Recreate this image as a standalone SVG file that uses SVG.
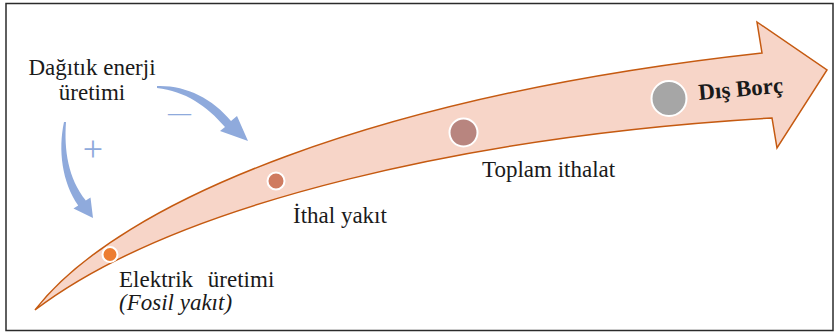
<svg xmlns="http://www.w3.org/2000/svg" width="837" height="334" viewBox="0 0 837 334">
<style>
text{font-family:'Liberation Serif','Tinos','DejaVu Serif',serif}
.t{font-size:23px;fill:#1a1a1a}
.dot{stroke:#ffffff;stroke-width:2}
.blue{fill:#8FAADC}
</style>
<rect x="0" y="0" width="837" height="334" fill="#ffffff"/>
<rect x="6" y="3.5" width="827" height="327" fill="none" stroke="#2b2b2b" stroke-width="1.5"/>
<g id="connectors">
<path id="main-arrow" d="M35,310 C120,200 380,95 762,53 L757,22 L827,70 L777,148 L772,118 C480,135 180,200 35,310 Z" fill="#F7D5C8" stroke="#C55A11" stroke-width="1.5" stroke-linejoin="miter"/>
<path id="arrow-plus" class="blue" d="M64,122 C58,150 62,182 78.2,205.5 L73.5,208.5 L93,218 L90.5,197.5 L85.8,200.5 C68,178 64,150 66,122 Z"/>
<path id="arrow-minus" class="blue" d="M157,86 C185,85 212,98 231,121 L237,116 L248,141 L220,131 L225,127 C207,106 185,91 157,88 Z"/>
<text class="blue" x="93" y="161" text-anchor="middle" font-size="36" font-family="Liberation Serif, serif">+</text>
<text class="blue" x="168" y="120" font-size="23" font-family="Liberation Serif, serif">—</text>
</g>
<g id="source">
<text class="t" x="92" y="75" text-anchor="middle" font-family="Liberation Serif, serif">Dağıtık enerji</text>
<text class="t" x="92" y="100" text-anchor="middle" font-family="Liberation Serif, serif">üretimi</text>
</g>
<g id="elektrik">
<circle class="dot" cx="110" cy="254.5" r="7.5" fill="#ED7D31"/>
<text class="t" x="119" y="287" word-spacing="9" font-family="Liberation Serif, serif">Elektrik üretimi</text>
<text class="t" x="119" y="310" font-size="22" font-style="italic" font-family="Liberation Serif, serif">(Fosil yakıt)</text>
</g>
<g id="ithal">
<circle class="dot" cx="276" cy="181" r="8.5" fill="#CF7B60"/>
<text class="t" x="293" y="223" font-family="Liberation Serif, serif">İthal yakıt</text>
</g>
<g id="toplam">
<circle class="dot" cx="463.5" cy="132.5" r="14" fill="#B8857F"/>
<text class="t" x="482" y="177" font-family="Liberation Serif, serif">Toplam ithalat</text>
</g>
<g id="disborc">
<circle class="dot" cx="669" cy="98.5" r="17.5" fill="#A6A6A6"/>
<text class="t" x="699" y="100" font-size="24" font-weight="bold" font-family="Liberation Serif, serif" transform="rotate(-5 699 100)">Dış Borç</text>
</g>
</svg>
